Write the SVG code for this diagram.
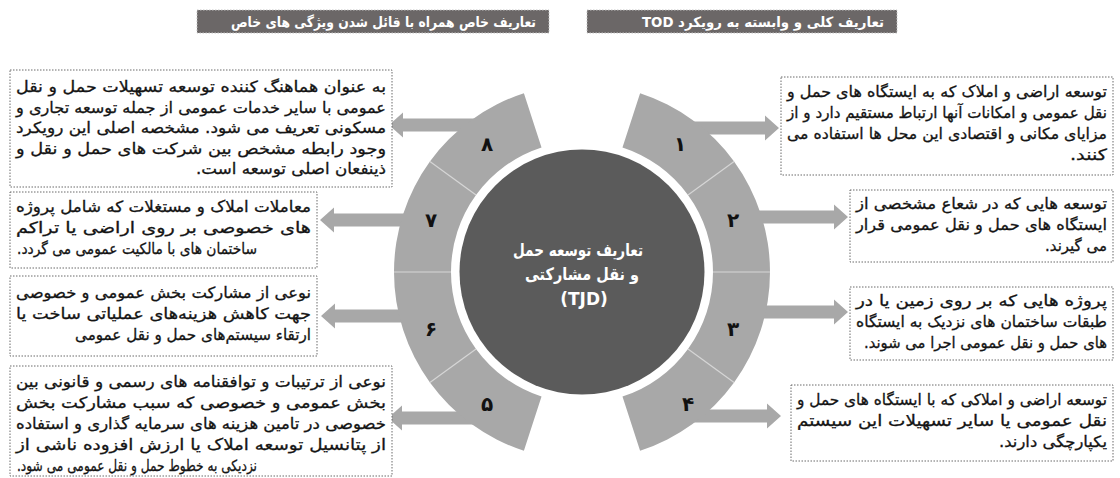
<svg xmlns="http://www.w3.org/2000/svg" width="1120" height="478" viewBox="0 0 1120 478">
<style>
.hdr{fill:#6b6767;stroke:#c4c4c4;stroke-width:1;stroke-dasharray:1.5 1.5}
.hdrt{font-family:"DejaVu Sans",sans-serif;font-size:14px;font-weight:bold;fill:#ffffff;direction:rtl;unicode-bidi:embed;text-anchor:start}
.box{fill:#ffffff;stroke:#6a6a6a;stroke-width:1;stroke-dasharray:1.5 1.5}
.t{font-family:"DejaVu Sans",sans-serif;font-size:15.5px;fill:#141414;stroke:#141414;stroke-width:0.3;direction:rtl;unicode-bidi:embed;text-anchor:start}
.ring{fill:#a8a8a8}
.div{stroke:#d6d6d6;stroke-width:1.2}
.arr{fill:#a8a8a8}
.num{font-family:"DejaVu Sans",sans-serif;font-size:20px;font-weight:bold;fill:#111111;text-anchor:middle}
.ct{font-family:"DejaVu Sans",sans-serif;font-size:17px;font-weight:bold;fill:#ffffff;text-anchor:middle;direction:rtl;unicode-bidi:embed}
</style>

<g id="header-left">
<rect class="hdr" x="197" y="10" width="352" height="23"/>
<text class="hdrt" x="536" y="26.5" textLength="305" lengthAdjust="spacingAndGlyphs">تعاریف خاص همراه با قائل شدن ویژگی های خاص</text>
</g>
<g id="header-right">
<rect class="hdr" x="587" y="10" width="310" height="23"/>
<text class="hdrt" x="884" y="26.5" textLength="242" lengthAdjust="spacingAndGlyphs">تعاریف کلی و وابسته به رویکرد TOD</text>
</g>

<g id="connectors">
<polygon class="arr" points="480,118.5 403,118.5 403,112.5 389,125 403,137.5 403,131.5 480,131.5"/>
<polygon class="arr" points="415,213.5 334,213.5 334,207.5 320,220 334,232.5 334,226.5 415,226.5"/>
<polygon class="arr" points="415,309.5 335,309.5 335,303.5 321,316 335,328.5 335,322.5 415,322.5"/>
<polygon class="arr" points="480,411.5 402,411.5 402,405.5 388,418 402,430.5 402,424.5 480,424.5"/>
<polygon class="arr" points="690,121.5 765,121.5 765,115.5 779,128 765,140.5 765,134.5 690,134.5"/>
<polygon class="arr" points="750,210.5 834,210.5 834,204.5 848,217 834,229.5 834,223.5 750,223.5"/>
<polygon class="arr" points="750,305.5 834,305.5 834,299.5 848,312 834,324.5 834,318.5 750,318.5"/>
<polygon class="arr" points="690,409.5 767,409.5 767,403.5 781,416 767,428.5 767,422.5 690,422.5"/>
</g>

<g id="ring-right">
<path class="ring" d="M 622.48 147.41 L 640.09 93.20 A 188 188 0 0 1 640.09 450.80 L 622.48 396.59 A 131 131 0 0 0 622.48 147.41 Z"/>
<line class="div" x1="687.98" y1="195.00" x2="734.09" y2="161.49"/>
<line class="div" x1="713" y1="272" x2="770" y2="272"/>
<line class="div" x1="687.98" y1="349.00" x2="734.09" y2="382.51"/>
</g>
<g id="ring-left">
<path class="ring" d="M 541.52 147.41 L 523.91 93.20 A 188 188 0 0 0 523.91 450.80 L 541.52 396.59 A 131 131 0 0 1 541.52 147.41 Z"/>
<line class="div" x1="476.02" y1="195.00" x2="429.91" y2="161.49"/>
<line class="div" x1="451" y1="272" x2="394" y2="272"/>
<line class="div" x1="476.02" y1="349.00" x2="429.91" y2="382.51"/>
</g>

<g id="seg-1"><text class="num" x="680" y="151">۱</text></g>
<g id="seg-2"><text class="num" x="733" y="227">۲</text></g>
<g id="seg-3"><text class="num" x="733" y="336">۳</text></g>
<g id="seg-4"><text class="num" x="688" y="411">۴</text></g>
<g id="seg-5"><text class="num" x="487" y="411">۵</text></g>
<g id="seg-6"><text class="num" x="431" y="336">۶</text></g>
<g id="seg-7"><text class="num" x="431" y="227">۷</text></g>
<g id="seg-8"><text class="num" x="487" y="151">۸</text></g>

<g id="center">
<circle cx="582" cy="272" r="122.5" fill="#5b5b5b"/>
<text class="ct" x="578" y="256" textLength="130" lengthAdjust="spacingAndGlyphs">تعاریف توسعه حمل</text>
<text class="ct" x="582" y="280" textLength="114" lengthAdjust="spacingAndGlyphs">و نقل مشارکتی</text>
<text class="ct" x="584" y="305" style="direction:ltr">(TJD)</text>
</g>

<g id="box-1">
<rect class="box" x="781" y="77" width="332" height="98"/>
<text class="t" x="1107" y="97" textLength="320" lengthAdjust="spacingAndGlyphs">توسعه اراضی و املاک که به ایستگاه های حمل و</text>
<text class="t" x="1107" y="118" textLength="320" lengthAdjust="spacingAndGlyphs">نقل عمومی و امکانات آنها ارتباط مستقیم دارد و از</text>
<text class="t" x="1107" y="139" textLength="320" lengthAdjust="spacingAndGlyphs">مزایای مکانی و اقتصادی این محل ها استفاده می</text>
<text class="t" x="1107" y="160" textLength="37" lengthAdjust="spacingAndGlyphs">کنند.</text>
</g>
<g id="box-2">
<rect class="box" x="850" y="190" width="263" height="72"/>
<text class="t" x="1107" y="209" textLength="251" lengthAdjust="spacingAndGlyphs">توسعه هایی که در شعاع مشخصی از</text>
<text class="t" x="1107" y="230" textLength="251" lengthAdjust="spacingAndGlyphs">ایستگاه های حمل و نقل عمومی قرار</text>
<text class="t" x="1107" y="251" textLength="62" lengthAdjust="spacingAndGlyphs">می گیرند.</text>
</g>
<g id="box-3">
<rect class="box" x="850" y="287" width="263" height="73"/>
<text class="t" x="1107" y="306" textLength="251" lengthAdjust="spacingAndGlyphs">پروژه هایی که بر روی زمین یا در</text>
<text class="t" x="1107" y="327" textLength="251" lengthAdjust="spacingAndGlyphs">طبقات ساختمان های نزدیک به ایستگاه</text>
<text class="t" x="1107" y="348" textLength="243" lengthAdjust="spacingAndGlyphs">های حمل و نقل عمومی اجرا می شوند.</text>
</g>
<g id="box-4">
<rect class="box" x="791" y="385" width="322" height="76"/>
<text class="t" x="1107" y="405" textLength="310" lengthAdjust="spacingAndGlyphs">توسعه اراضی و املاکی که با ایستگاه های حمل و</text>
<text class="t" x="1107" y="426" textLength="310" lengthAdjust="spacingAndGlyphs">نقل عمومی یا سایر تسهیلات این سیستم</text>
<text class="t" x="1107" y="447" textLength="108" lengthAdjust="spacingAndGlyphs">یکپارچگی دارند.</text>
</g>

<g id="box-8">
<rect class="box" x="10" y="70" width="382" height="117"/>
<text class="t" x="386" y="92" textLength="370" lengthAdjust="spacingAndGlyphs">به عنوان هماهنگ کننده توسعه تسهیلات حمل و نقل</text>
<text class="t" x="386" y="112.5" textLength="370" lengthAdjust="spacingAndGlyphs">عمومی با سایر خدمات عمومی از جمله توسعه تجاری و</text>
<text class="t" x="386" y="133" textLength="370" lengthAdjust="spacingAndGlyphs">مسکونی تعریف می شود. مشخصه اصلی این رویکرد</text>
<text class="t" x="386" y="153.5" textLength="370" lengthAdjust="spacingAndGlyphs">وجود رابطه مشخص بین شرکت های حمل و نقل و</text>
<text class="t" x="386" y="174" textLength="190" lengthAdjust="spacingAndGlyphs">ذینفعان اصلی توسعه است.</text>
</g>
<g id="box-7">
<rect class="box" x="10" y="192" width="307" height="76"/>
<text class="t" x="311" y="212" textLength="295" lengthAdjust="spacingAndGlyphs">معاملات املاک و مستغلات که شامل پروژه</text>
<text class="t" x="311" y="233" textLength="295" lengthAdjust="spacingAndGlyphs">های خصوصی بر روی اراضی یا تراکم</text>
<text class="t" x="257" y="254" textLength="240" lengthAdjust="spacingAndGlyphs">ساختمان های با مالکیت عمومی می گردد.</text>
</g>
<g id="box-6">
<rect class="box" x="10" y="276" width="307" height="80"/>
<text class="t" x="311" y="298" textLength="295" lengthAdjust="spacingAndGlyphs">نوعی از مشارکت بخش عمومی و خصوصی</text>
<text class="t" x="311" y="319" textLength="295" lengthAdjust="spacingAndGlyphs">جهت کاهش هزینه‌های عملیاتی ساخت یا</text>
<text class="t" x="311" y="340" textLength="236" lengthAdjust="spacingAndGlyphs">ارتقاء سیستم‌های حمل و نقل عمومی</text>
</g>
<g id="box-5">
<rect class="box" x="10" y="366" width="382" height="110"/>
<text class="t" x="386" y="387" textLength="370" lengthAdjust="spacingAndGlyphs">نوعی از ترتیبات و توافقنامه های رسمی و قانونی بین</text>
<text class="t" x="386" y="408" textLength="370" lengthAdjust="spacingAndGlyphs">بخش عمومی و خصوصی که سبب مشارکت بخش</text>
<text class="t" x="386" y="429" textLength="370" lengthAdjust="spacingAndGlyphs">خصوصی در تامین هزینه های سرمایه گذاری و استفاده</text>
<text class="t" x="386" y="450" textLength="370" lengthAdjust="spacingAndGlyphs">از پتانسیل توسعه املاک یا ارزش افزوده ناشی از</text>
<text class="t" x="257" y="471" textLength="240" lengthAdjust="spacingAndGlyphs">نزدیکی به خطوط حمل و نقل عمومی می شود.</text>
</g>
</svg>
